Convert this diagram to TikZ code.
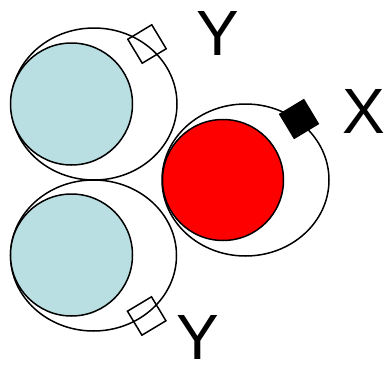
\documentclass[tikz,border=0pt]{standalone}
\usepackage{fontspec}
\setmainfont{Liberation Sans}
\usetikzlibrary{shapes.geometric, positioning, calc}

\begin{document}
\begin{tikzpicture}[
    x=1pt, y=-1pt,
    every node/.style={inner sep=0pt},
]
% Colors
\definecolor{cellblue}{RGB}{185,223,227}
\definecolor{cellred}{RGB}{255,0,0}
% ============================================================
% Styles
% ============================================================
\tikzset{
    shell/.style={
        draw=black,
        line width=1.5pt,
        ellipse,
        minimum width=166pt,
        minimum height=152pt,
    },
    core/.style={
        draw=black,
        line width=1.5pt,
        circle,
        minimum size=122pt,
    },
    tagbox/.style={
        draw=black,
        line width=1.5pt,
        rectangle,
        minimum size=28pt,
        rotate=31,
    },
    letter/.style={font=\fontsize{64}{64}\selectfont, anchor=base},
}
\useasboundingbox (0, 0) rectangle (388, 364);

% --- Top cell (Y) ---
\node[shell] (shellT) at (94, 104) {};
\node[core, fill=cellblue] (coreT) at (71.5, 104) {};
\node[tagbox] (tagT) at (147, 44) {};
\node[letter] (labT) at (218, 55) {Y};

% --- Right cell (X) ---
\node[shell, minimum width=167pt] (shellR) at (245.5, 180) {};
\node[core, fill=cellred, minimum size=121pt] (coreR) at (223, 180) {};
\node[tagbox, fill=black] (tagR) at (299, 119) {};
\node[letter] (labR) at (364, 133) {X};

% --- Bottom cell (Y) ---
\node[shell, minimum height=151pt] (shellB) at (93.5, 255.5) {};
\node[core, fill=cellblue] (coreB) at (71.5, 255) {};
\node[tagbox] (tagB) at (146.7, 316) {};
\node[letter] (labB) at (197.5, 359) {Y};
\end{tikzpicture}
\end{document}
